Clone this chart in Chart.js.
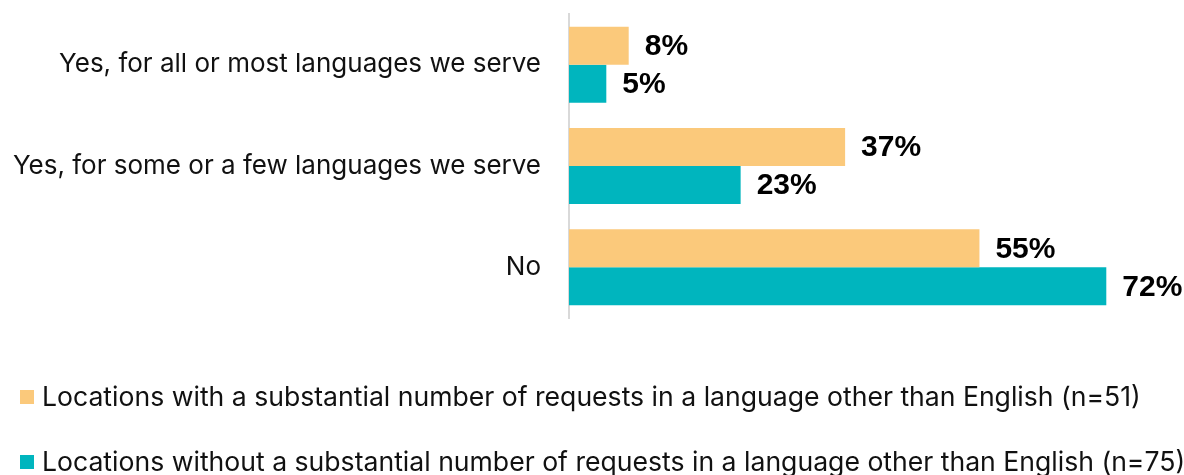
<!DOCTYPE html>
<html>
<head>
<meta charset="utf-8">
<script src="https://cdn.jsdelivr.net/npm/chart.js@4"></script>
<style>
  html, body { margin: 0; padding: 0; background: #fff; }
  #wrap { width: 1184px; height: 475px; }
</style>
</head>
<body>
<div id="wrap"><canvas id="chart" width="1184" height="475"></canvas></div>
<script>
// Chart data
var categories = [
    "Yes, for all or most languages we serve",
    "Yes, for some or a few languages we serve",
    "No"
];
var seriesNames = [
    "Locations with a substantial number of requests in a language other than English (n=51)",
    "Locations without a substantial number of requests in a language other than English (n=75)"
];
var withRequests = [8, 37, 55];
var withoutRequests = [5, 23, 72];

var orange = "#FBC97B";
var teal = "#00B5BE";

// Bold value labels at the end of each bar
var valueLabels = {
    id: "valueLabels",
    afterDatasetsDraw: function (chart) {
        var ctx = chart.ctx;
        ctx.save();
        ctx.font = "bold 30px 'Liberation Sans', Arial, sans-serif";
        ctx.fillStyle = "#000";
        ctx.textAlign = "left";
        ctx.textBaseline = "middle";
        chart.data.datasets.forEach(function (ds, i) {
            chart.getDatasetMeta(i).data.forEach(function (bar, k) {
                ctx.fillText(ds.data[k] + "%", bar.x + 16, bar.y + 1);
            });
        });
        ctx.restore();
    }
};

// Legend drawn under the plot, one item per line
var bottomLegend = {
    id: "bottomLegend",
    afterDraw: function (chart) {
        var ctx = chart.ctx;
        var rows = [397, 462];
        ctx.save();
        ctx.font = "26.6px Inter, 'Noto Sans', sans-serif";
        ctx.textBaseline = "middle";
        ctx.textAlign = "left";
        chart.data.datasets.forEach(function (ds, i) {
            ctx.fillStyle = ds.backgroundColor;
            ctx.fillRect(20, rows[i] - 7, 14, 14);
            ctx.fillStyle = "#111";
            ctx.fillText(ds.label, 42, rows[i] + 1);
        });
        ctx.restore();
    }
};

new Chart(document.getElementById("chart"), {
    type: "bar",
    data: {
        labels: categories,
        datasets: [
            { label: seriesNames[0], data: withRequests, backgroundColor: orange },
            { label: seriesNames[1], data: withoutRequests, backgroundColor: teal }
        ]
    },
    options: {
        indexAxis: "y",
        responsive: false,
        animation: false,
        layout: { padding: { left: 0, top: 14, right: 18, bottom: 157 } },
        datasets: { bar: { categoryPercentage: 0.75, barPercentage: 1 } },
        plugins: {
            legend: { display: false },
            tooltip: { enabled: false }
        },
        scales: {
            x: {
                display: false,
                min: 0,
                max: 80
            },
            y: {
                afterFit: function (scale) {
                    scale.width = 569;
                    scale.paddingTop = 0;
                    scale.paddingBottom = 0;
                },
                grid: { display: false },
                border: { display: true, color: "#d9d9d9", width: 2 },
                ticks: {
                    padding: 20,
                    color: "#111",
                    font: { family: "Inter, 'Noto Sans', sans-serif", size: 26 }
                }
            }
        }
    },
    plugins: [valueLabels, bottomLegend]
});
</script>
</body>
</html>
